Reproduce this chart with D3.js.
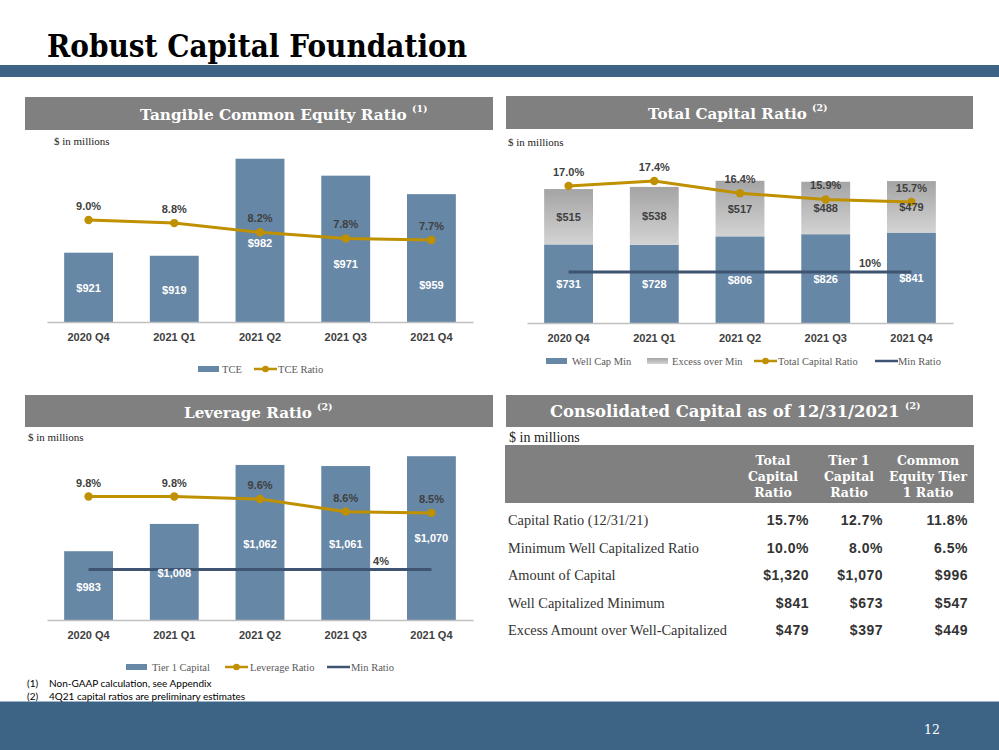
<!DOCTYPE html>
<html><head><meta charset="utf-8">
<script src="https://cdn.jsdelivr.net/npm/d3@7"></script>
<style>body{margin:0;background:#fff}svg{display:block}</style>
</head><body><svg id="c" width="999" height="750"></svg>
<script>
// ---------- DATA ----------
const quarters = ["2020 Q4","2021 Q1","2021 Q2","2021 Q3","2021 Q4"];
const tceValues = [921,919,982,971,959];
const tceRatio = [9.0,8.8,8.2,7.8,7.7];
const wellCapMin = [731,728,806,826,841];
const excessOverMin = [515,538,517,488,479];
const totalCapRatio = [17.0,17.4,16.4,15.9,15.7];
const totalMinRatio = 10;
const tier1Capital = [983,1008,1062,1061,1070];
const leverageRatio = [9.8,9.8,9.6,8.6,8.5];
const leverageMinRatio = 4;
const tableColumns = [["Total","Capital","Ratio"],["Tier 1","Capital","Ratio"],["Common","Equity Tier","1 Ratio"]];
const tableRowLabels = ["Capital Ratio (12/31/21)","Minimum Well Capitalized Ratio","Amount of Capital","Well Capitalized Minimum","Excess Amount over Well-Capitalized"];
const tableTotalCapital = ["15.7%","10.0%","$1,320","$841","$479"];
const tableTier1 = ["12.7%","8.0%","$1,070","$673","$397"];
const tableCET1 = ["11.8%","6.5%","$996","$547","$449"];
const footnotes = [["(1)","Non-GAAP calculation, see Appendix"],["(2)","4Q21 capital ratios are preliminary estimates"]];

// ---------- STYLE ----------
const svg = d3.select("#c");
const W = 999;
const BLUE = "#6787a6", GOLD = "#bf9000", NAVY = "#3f5470", HDR = "#808080", BAND = "#3d6385", TXT = "#404040";
const SERIF = "'DejaVu Serif', Georgia, serif";
const TIMES = "'Liberation Serif','Times New Roman',serif";
const SANS = "'Liberation Sans', Arial, sans-serif";
const NOTE = "Lato, 'Open Sans', sans-serif";
const fmtPct = d => d.toFixed(1) + "%";
const fmtUsd = d => "$" + d3.format(",")(d);

function fitWidth(sel, baseSize, target){
  sel.attr("font-size", baseSize);
  const w = sel.node().getComputedTextLength();
  const s = baseSize * target / w;
  sel.attr("font-size", s);
  return s;
}

function draw(){
const defs = svg.append("defs");
const grad = defs.append("linearGradient").attr("id","gGray").attr("x1",0).attr("y1",0).attr("x2",0).attr("y2",1);
grad.append("stop").attr("offset","0%").attr("stop-color","#a4a4a4");
grad.append("stop").attr("offset","100%").attr("stop-color","#d3d3d3");

// ---------- PAGE FRAME ----------
svg.append("text").attr("x",47).attr("y",57).attr("font-family",SERIF).attr("font-weight","bold")
  .attr("font-size",31).attr("textLength",420).attr("lengthAdjust","spacingAndGlyphs").attr("fill","#000")
  .text("Robust Capital Foundation");
svg.append("rect").attr("x",0).attr("y",65).attr("width",W).attr("height",12).attr("fill",BAND);
svg.append("rect").attr("x",0).attr("y",701).attr("width",W).attr("height",1.5).attr("fill","#9db4ca");
svg.append("rect").attr("x",0).attr("y",702).attr("width",W).attr("height",48).attr("fill",BAND);
svg.append("text").attr("x",932).attr("y",734).attr("text-anchor","middle").attr("font-family",SERIF)
  .attr("font-size",12.5).attr("fill","#fff").text("12");

function header(x0,y0,x1,y1,title,tx0,tx1,sup,base){
  svg.append("rect").attr("x",x0).attr("y",y0).attr("width",x1-x0).attr("height",y1-y0).attr("fill",HDR);
  const t = svg.append("text").attr("x",tx0).attr("y",base).attr("font-family",SERIF).attr("font-weight","bold")
    .attr("fill","#fff").text(title);
  fitWidth(t, 16, tx1-tx0);
  svg.append("text").attr("x",tx1+5).attr("y",base-8).attr("font-family",SERIF).attr("font-weight","bold")
    .attr("font-size",9.5).attr("fill","#fff").text(sup);
}
header(25,97,493,130,"Tangible Common Equity Ratio",140,407,"(1)",120);
header(506,96,973,129,"Total Capital Ratio",648,807,"(2)",119);
header(25,395,493,427,"Leverage Ratio",184,312,"(2)",418);
header(506,395,973,427,"Consolidated Capital as of 12/31/2021",550,900,"(2)",417);

function unitsNote(x,y,size){
  svg.append("text").attr("x",x).attr("y",y).attr("font-family",TIMES).attr("font-size",size)
    .attr("fill","#222").attr("dominant-baseline","central").text("$ in millions");
}
unitsNote(54,141,11); unitsNote(508,142,11); unitsNote(28,437,11); unitsNote(509,437,14);

function drawAxis(x, yBase){
  const ax = svg.append("g").attr("transform",`translate(0,${yBase})`)
    .call(d3.axisBottom(x).tickSize(0).tickSizeOuter(0).tickPadding(11));
  ax.select(".domain").attr("stroke","#c0c0c0").attr("stroke-width",1.5);
  ax.selectAll("text").attr("font-family",SANS).attr("font-weight","bold").attr("font-size",11).attr("fill",TXT);
}
function drawRatioLine(x, y, values){
  const cx = (d,i) => x(quarters[i]) + x.bandwidth()/2;
  svg.append("path").datum(values).attr("fill","none").attr("stroke",GOLD).attr("stroke-width",3)
    .attr("d", d3.line().x(cx).y(d => y(d)));
  svg.selectAll(null).data(values).join("circle").attr("cx",cx).attr("cy",d=>y(d)).attr("r",4.2).attr("fill",GOLD);
}
function ratioLabels(x, y, values){
  svg.selectAll(null).data(values).join("text")
    .attr("x",(d,i)=>x(quarters[i])+x.bandwidth()/2).attr("y",d=>y(d)-14)
    .attr("text-anchor","middle").attr("dominant-baseline","central")
    .attr("font-family",SANS).attr("font-weight","bold").attr("font-size",11).attr("fill",TXT)
    .text(fmtPct);
}
function minLine(x, y, v, label, labelX){
  const xa = x(quarters[0]) + x.bandwidth()/2, xb = x(quarters[quarters.length-1]) + x.bandwidth()/2;
  svg.append("line").attr("x1",xa).attr("x2",xb).attr("y1",y(v)).attr("y2",y(v)).attr("stroke",NAVY).attr("stroke-width",3);
  svg.append("text").attr("x",labelX).attr("y",y(v)-9).attr("text-anchor","middle").attr("dominant-baseline","central")
    .attr("font-family",SANS).attr("font-weight","bold").attr("font-size",11).attr("fill",TXT).text(label);
}
function legend(y, items){
  items.forEach(it => {
    if (it.type === "rect") {
      svg.append("rect").attr("x",it.x).attr("y",y-3).attr("width",21).attr("height",6).attr("fill",it.fill);
    } else {
      svg.append("line").attr("x1",it.x).attr("x2",it.x+23).attr("y1",y).attr("y2",y).attr("stroke",it.stroke).attr("stroke-width",2.5);
      if (it.dot) svg.append("circle").attr("cx",it.x+11.5).attr("cy",y).attr("r",3.3).attr("fill",it.stroke);
    }
    svg.append("text").attr("x",it.tx).attr("y",y).attr("dominant-baseline","central").attr("font-family",TIMES)
      .attr("font-size",10.5).attr("fill","#595959").text(it.label);
  });
}

// TCE chart
{
  const x = d3.scaleBand().domain(quarters).range([47,473]).paddingInner(0.43).paddingOuter(0.2);
  const y = d3.scaleLinear().domain([876,1000]).range([322,131]);
  const y2 = d3.scaleLinear().domain([6,10]).range([266.2,204.6]);
  svg.selectAll(null).data(tceValues).join("rect")
    .attr("x",(d,i)=>x(quarters[i])).attr("width",x.bandwidth())
    .attr("y",d=>y(d)).attr("height",d=>y.range()[0]-y(d)).attr("fill",BLUE);
  drawAxis(x, 322);
  drawRatioLine(x, y2, tceRatio);
  const rise = [34,32,79,58,37];
  svg.selectAll(null).data(tceValues).join("text")
    .attr("x",(d,i)=>x(quarters[i])+x.bandwidth()/2).attr("y",(d,i)=>322-rise[i])
    .attr("text-anchor","middle").attr("dominant-baseline","central")
    .attr("font-family",SANS).attr("font-weight","bold").attr("font-size",11).attr("fill","#fff").text(fmtUsd);
  ratioLabels(x, y2, tceRatio);
  legend(369, [
    {type:"rect",x:198,fill:BLUE,tx:222,label:"TCE"},
    {type:"line",x:254,stroke:GOLD,dot:true,tx:278,label:"TCE Ratio"}
  ]);
}

// Total Capital chart
{
  const x = d3.scaleBand().domain(quarters).range([527,953]).paddingInner(0.43).paddingOuter(0.2);
  const y = d3.scaleLinear().domain([0,1400]).range([323,172.5]);
  const y2 = d3.scaleLinear().domain([10,18]).range([272,173.6]);
  const stacked = quarters.map((q,i)=>({q, base:wellCapMin[i], excess:excessOverMin[i]}));
  svg.selectAll(null).data(stacked).join("rect")
    .attr("x",d=>x(d.q)).attr("width",x.bandwidth())
    .attr("y",d=>y(d.base)).attr("height",d=>y(0)-y(d.base)).attr("fill",BLUE);
  svg.selectAll(null).data(stacked).join("rect")
    .attr("x",d=>x(d.q)).attr("width",x.bandwidth())
    .attr("y",d=>y(d.base+d.excess)).attr("height",d=>y(d.base)-y(d.base+d.excess)).attr("fill","url(#gGray)");
  drawAxis(x, 323);
  minLine(x, y2, totalMinRatio, totalMinRatio + "%", 870);
  drawRatioLine(x, y2, totalCapRatio);
  svg.selectAll(null).data(stacked).join("text")
    .attr("x",d=>x(d.q)+x.bandwidth()/2).attr("y",d=>(y(0)+y(d.base))/2)
    .attr("text-anchor","middle").attr("dominant-baseline","central")
    .attr("font-family",SANS).attr("font-weight","bold").attr("font-size",11).attr("fill","#fff").text(d=>fmtUsd(d.base));
  svg.selectAll(null).data(stacked).join("text")
    .attr("x",d=>x(d.q)+x.bandwidth()/2).attr("y",d=>(y(d.base)+y(d.base+d.excess))/2)
    .attr("text-anchor","middle").attr("dominant-baseline","central")
    .attr("font-family",SANS).attr("font-weight","bold").attr("font-size",11).attr("fill",TXT).text(d=>fmtUsd(d.excess));
  ratioLabels(x, y2, totalCapRatio);
  legend(361, [
    {type:"rect",x:546,fill:BLUE,tx:572,label:"Well Cap Min"},
    {type:"rect",x:647,fill:"url(#gGray)",tx:672,label:"Excess over Min"},
    {type:"line",x:754,stroke:GOLD,dot:true,tx:778,label:"Total Capital Ratio"},
    {type:"line",x:875,stroke:NAVY,dot:false,tx:898,label:"Min Ratio"}
  ]);
}

// Leverage chart
{
  const x = d3.scaleBand().domain(quarters).range([47,473]).paddingInner(0.43).paddingOuter(0.2);
  const y = d3.scaleLinear().domain([920,1080]).range([620,445.3]);
  const y2 = d3.scaleLinear().domain([0,10]).range([620,494]);
  svg.selectAll(null).data(tier1Capital).join("rect")
    .attr("x",(d,i)=>x(quarters[i])).attr("width",x.bandwidth())
    .attr("y",d=>y(d)).attr("height",d=>y.range()[0]-y(d)).attr("fill",BLUE);
  drawAxis(x, 620);
  minLine(x, y2, leverageMinRatio, leverageMinRatio + "%", 381);
  drawRatioLine(x, y2, leverageRatio);
  const rise = [33,47,76,76,82];
  svg.selectAll(null).data(tier1Capital).join("text")
    .attr("x",(d,i)=>x(quarters[i])+x.bandwidth()/2).attr("y",(d,i)=>620-rise[i])
    .attr("text-anchor","middle").attr("dominant-baseline","central")
    .attr("font-family",SANS).attr("font-weight","bold").attr("font-size",11).attr("fill","#fff").text(fmtUsd);
  ratioLabels(x, y2, leverageRatio);
  legend(667, [
    {type:"rect",x:126,fill:BLUE,tx:152,label:"Tier 1 Capital"},
    {type:"line",x:225,stroke:GOLD,dot:true,tx:250,label:"Leverage Ratio"},
    {type:"line",x:327,stroke:NAVY,dot:false,tx:351,label:"Min Ratio"}
  ]);
}

// footnotes
footnotes.forEach((f,i)=>{
  const yy = 683 + i*13;
  svg.append("text").attr("x",27).attr("y",yy).attr("dominant-baseline","central").attr("font-family",NOTE)
    .attr("font-size",10).attr("fill","#000").text(f[0]);
  svg.append("text").attr("x",49).attr("y",yy).attr("dominant-baseline","central").attr("font-family",NOTE)
    .attr("font-size",10).attr("fill","#000").text(f[1]);
});

// table
{
  svg.append("rect").attr("x",505).attr("y",445).attr("width",469).attr("height",58).attr("fill",HDR);
  const colCenters = [773,849,928];
  const colRights = [809,883,968];
  tableColumns.forEach((lines,c)=>{
    lines.forEach((t,k)=>{
      svg.append("text").attr("x",colCenters[c]).attr("y",460+k*16).attr("text-anchor","middle").attr("dominant-baseline","central")
        .attr("font-family",SERIF).attr("font-weight","bold").attr("font-size",12.5).attr("fill","#fff").text(t);
    });
  });
  const rowY = d3.scalePoint().domain(tableRowLabels).range([520,630]);
  const lbl = svg.selectAll(null).data(tableRowLabels).join("text")
    .attr("x",508).attr("y",d=>rowY(d)).attr("dominant-baseline","central")
    .attr("font-family",TIMES).attr("font-size",14).attr("fill","#333").text(d=>d);
  let maxW = 0; lbl.each(function(){ maxW = Math.max(maxW, this.getComputedTextLength()); });
  lbl.attr("font-size", 14 * 219 / maxW);
  [tableTotalCapital, tableTier1, tableCET1].forEach((col,c)=>{
    svg.selectAll(null).data(col).join("text")
      .attr("x",colRights[c]).attr("y",(d,i)=>rowY(tableRowLabels[i])).attr("text-anchor","end").attr("dominant-baseline","central")
      .attr("font-family",SANS).attr("font-weight","bold").attr("font-size",14).attr("letter-spacing",0.5).attr("fill","#333").text(d=>d);
  });
}
}

const fontLoads = ["bold 16px 'DejaVu Serif'","10px Lato","14px 'Liberation Serif'","bold 11px 'Liberation Sans'"]
  .map(f => document.fonts ? document.fonts.load(f).catch(()=>{}) : Promise.resolve());
Promise.all(fontLoads).then(draw, draw);
</script></body></html>
